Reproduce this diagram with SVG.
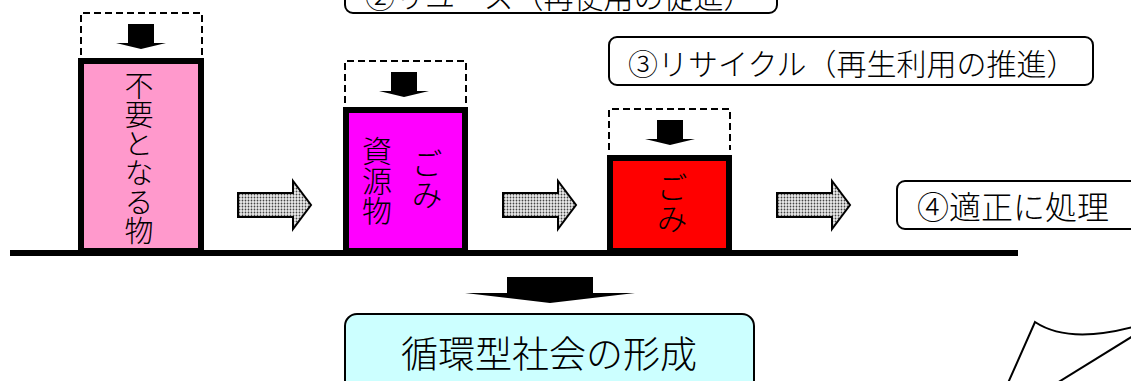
<svg xmlns="http://www.w3.org/2000/svg" xmlns:xlink="http://www.w3.org/1999/xlink" width="1131" height="381" viewBox="0 0 1131 381">
<style>
  .t { font-family: "Noto Sans CJK JP", "Noto Sans", sans-serif; font-weight: 300; fill: #000; }
  .h { dominant-baseline: central; }
  .v { writing-mode: vertical-rl; text-anchor: middle; }
  .node { stroke: #000; stroke-width: 6; }
  .dash { fill: none; stroke: #000; stroke-width: 2; stroke-dasharray: 7 4; }
  .lbl { fill: #fff; stroke: #000; stroke-width: 2; }
  .blk { fill: #000; }
  .gray { fill: url(#dots); stroke: #000; stroke-width: 2; stroke-linejoin: miter; }
</style>
<defs>
  <pattern id="dots" patternUnits="userSpaceOnUse" width="3" height="3">
    <rect width="3" height="3" fill="#ececec"/>
    <circle cx="1.5" cy="1.5" r="0.9" fill="#444"/>
  </pattern>
  <path id="dn" d="M-13,0 H13 V19 H25 L0,25 L-25,19 H-13 Z"/>
  <path id="ra" d="M0,-12 H55 V-24 L73,0 L55,24 V12 H0 Z"/>
</defs>
<rect width="1131" height="381" fill="#fff"/>

<g id="label-reuse">
  <rect class="lbl" x="345" y="-36" width="432" height="49" rx="8"/>
  <text class="t h" x="365" y="-5" font-size="30">②リユース（再使用の促進）</text>
</g>

<g id="label-recycle">
  <rect class="lbl" x="609" y="37" width="484" height="48" rx="8"/>
  <text class="t h" x="628" y="62" font-size="30">③リサイクル（再生利用の推進）</text>
</g>

<g id="label-disposal">
  <rect class="lbl" x="897" y="181" width="250" height="48" rx="8"/>
  <text class="t h" x="917" y="205" font-size="32">④適正に処理</text>
</g>

<g id="node-unneeded">
  <path class="dash" d="M81,55 V13 H202 V55"/>
  <rect class="node" x="81" y="61" width="120" height="190" fill="#FF99CC"/>
  <text class="t v" x="139" y="158" font-size="29">不要となる物</text>
</g>

<g id="node-resources">
  <path class="dash" d="M345,103 V61 H466 V103"/>
  <rect class="node" x="346" y="110" width="119" height="141" fill="#FF00FF"/>
  <text class="t v" x="377" y="181" font-size="30">資源物</text>
  <text class="t v" x="427" y="179" font-size="31">ごみ</text>
</g>

<g id="node-garbage">
  <path class="dash" d="M609,150 V109 H730 V150"/>
  <rect class="node" x="610" y="158" width="119" height="93" fill="#FF0000"/>
  <text class="t v" x="672" y="203" font-size="31">ごみ</text>
</g>

<g id="ground">
  <line x1="10" y1="253" x2="1018" y2="253" stroke="#000" stroke-width="6"/>
</g>

<g id="connectors">
  <use href="#dn" class="blk" x="141" y="24"/>
  <use href="#dn" class="blk" x="404" y="72"/>
  <use href="#dn" class="blk" x="670" y="120"/>
  <use href="#ra" class="gray" x="238" y="205"/>
  <use href="#ra" class="gray" x="503" y="205"/>
  <use href="#ra" class="gray" x="777" y="205"/>
  <path class="blk" d="M507,277 H593 V293 H635 L550,303 L465,293 H507 Z"/>
</g>

<g id="node-society">
  <rect x="345" y="314" width="409" height="90" rx="12" fill="#CCFFFF" stroke="#000" stroke-width="2"/>
  <text class="t h" x="549" y="352" font-size="37" text-anchor="middle">循環型社会の形成</text>
</g>

<g id="page-curl" fill="#fff" stroke="#000" stroke-width="2">
  <path d="M1008,383 L1035,322 Q1068,344 1133,327 L1133,383 Z"/>
  <path d="M1057,383 L1133,336" fill="none"/>
</g>
</svg>
